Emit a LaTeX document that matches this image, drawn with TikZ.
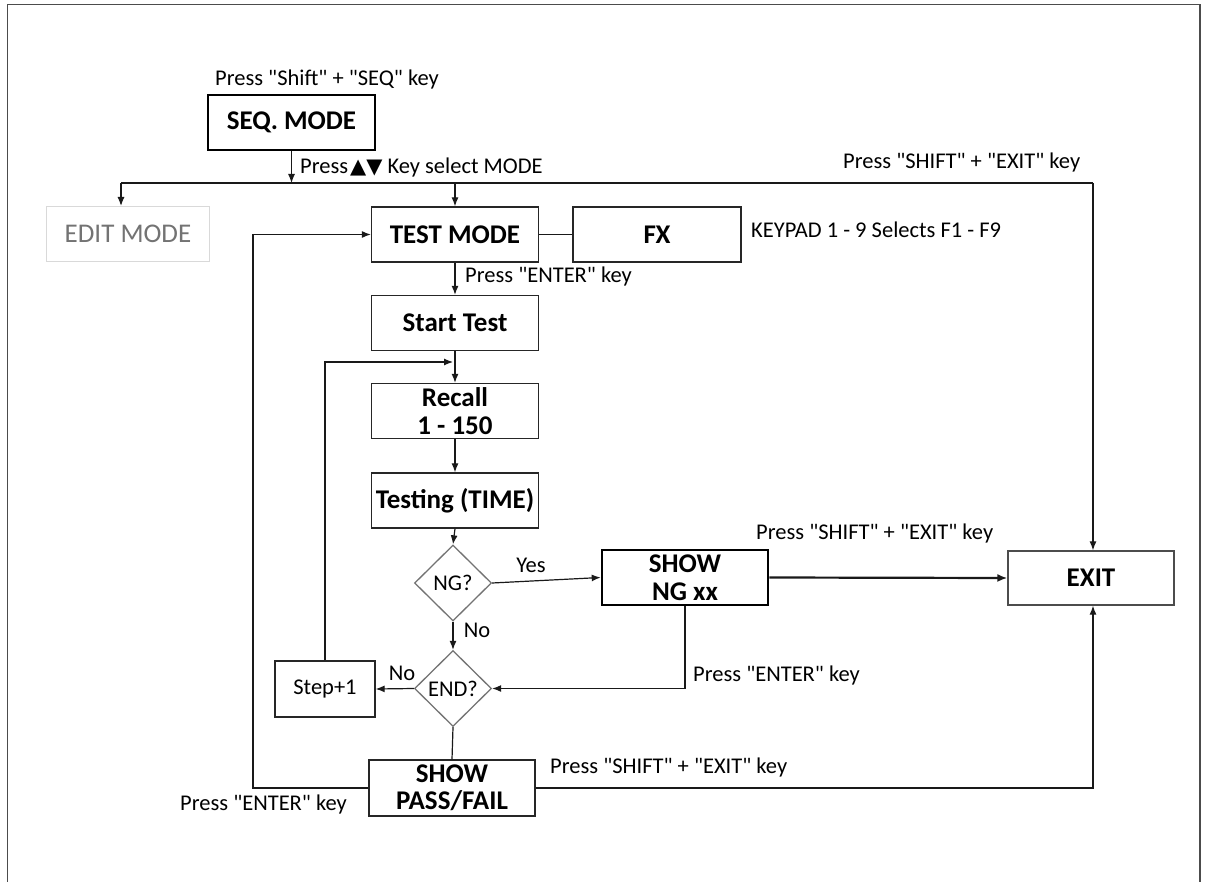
\documentclass[tikz,border=0pt]{standalone}
\usepackage{fontspec}
\setmainfont{Carlito}[Ligatures=TeXOff]
\newfontfamily\symf{DejaVu Sans}
\usetikzlibrary{shapes.geometric,arrows.meta}
\begin{document}
\begin{tikzpicture}[x=1pt,y=-1pt,
  lblfont/.style={font=\fontsize{22.5}{26}\selectfont},
  box/.style={draw=black!85, line width=1.3pt, minimum width=167pt, minimum height=55pt,
    inner sep=0pt, align=center, font=\bfseries\fontsize{27}{27.5}\selectfont},
  thickbox/.style={box, draw=black, line width=2.6pt},
  plainbox/.style={box, font=\fontsize{22.5}{26}\selectfont},
  lbl/.style={lblfont, inner sep=0pt},
  dia/.style={diamond, draw=black!55, line width=1.3pt, minimum width=77pt, minimum height=76pt,
    inner sep=0pt, lblfont},
  arr/.style={-{Latex[length=9pt,width=7pt]}, line width=1.2pt, draw=black!90},
  ln/.style={line width=1.2pt, draw=black!90},
  thickarr/.style={arr, line width=2.2pt, -{Latex[length=10pt,width=8pt]}},
  frame/.style={line width=1.5pt, draw=black!70}
]
\useasboundingbox (0,0) rectangle (1209,882);
\fill[white] (0,0) rectangle (1209,882);
\draw[frame] (7.5,882) -- (7.5,4.5) -- (1200,4.5) -- (1200,882);

% nodes
\node[thickbox, minimum width=167pt] (seq) at (291.5,122.5) {SEQ. MODE};
\node[box, draw=black!15, line width=1pt, minimum width=163pt, font=\fontsize{27}{30}\selectfont, text=black!55] (edit) at (128,234) {EDIT MODE};
\node[box] (test) at (455,234.5) {TEST MODE};
\node[box, minimum width=168pt] (fx) at (657,234.5) {FX};
\node[box] (start) at (455,323) {Start Test};
\node[box] (recall) at (455,411) {Recall\\1 - 150};
\node[box] (testing) at (455,500.5) {Testing (TIME)};
\node[dia] (ng) at (453,583) {NG?};
\node[dia] (end) at (453,688.5) {END?};
\node[plainbox, minimum width=100pt, minimum height=56pt] (step) at (325,689) {Step+1};
\node[box, minimum width=166pt, minimum height=56pt] (pass) at (452,788) {SHOW\\PASS/FAIL};
\node[thickbox, minimum width=166pt] (showng) at (685,577.5) {SHOW\\NG xx};
\node[box, draw=black!70, minimum width=166pt, minimum height=54pt] (exit) at (1091,578) {EXIT};

% coordinates
\coordinate (busL) at (121,183);
\coordinate (busR) at (1093,183);
\coordinate (loopin) at (453,362);
\coordinate (lc) at (253,788);

% connectors
\draw[arr] (seq.south) -- (seq.south |- busL);
\draw[ln] (busL) -- (busR);
\draw[arr] (busL) -- (busL |- edit.north);
\draw[arr] (test.north |- busL) -- (test.north);
\draw[arr] (busR) -- (busR |- exit.north);
\draw[ln] (test.east) -- (fx.west);
\draw[arr] (test.south) -- (start.north);
\draw[arr] (start.south) -- (recall.north);
\draw[arr] (recall.south) -- (testing.north);
\draw[arr] (testing.south) -- (ng.north);
\draw[arr] (ng.east) -- (showng.west);
\draw[thickarr] (showng.east) -- (exit.west);
\draw[arr] (ng.south) -- (end.north);
\draw[arr] (showng.south) |- (end.east);
\draw[arr] (end.west) -- (step.east);
\draw[arr] (step.north) |- (loopin);
\draw[ln] (end.south) -- (pass.north);
\draw[arr] (pass.west |- lc) -- (lc) |- (test.west);
\draw[arr] (pass.east) -| (busR |- exit.south);

% labels
\node[lbl] (t1) at (327,80) {Press "Shift" + "SEQ" key};
\node[lbl, anchor=west] (t2) at (300,168) {Press\kern2pt{\symf\fontsize{21}{22}\selectfont ▲▼} Key select MODE};
\node[lbl, anchor=west] (t3) at (843,163) {Press "SHIFT" + "EXIT" key};
\node[lbl, anchor=west] (t4) at (751,230) {KEYPAD 1 - 9 Selects F1 - F9};
\node[lbl, anchor=west] (t5) at (465,277) {Press "ENTER" key};
\node[lbl] (t6) at (531,565) {Yes};
\node[lbl, anchor=west] (t7) at (756,533) {Press "SHIFT" + "EXIT" key};
\node[lbl] (t8) at (477,630) {No};
\node[lbl] (t9) at (402,673) {No};
\node[lbl, anchor=west] (t10) at (693,675) {Press "ENTER" key};
\node[lbl, anchor=west] (t11) at (550,767) {Press "SHIFT" + "EXIT" key};
\node[lbl, anchor=west] (t12) at (180,804) {Press "ENTER" key};
\end{tikzpicture}
\end{document}
